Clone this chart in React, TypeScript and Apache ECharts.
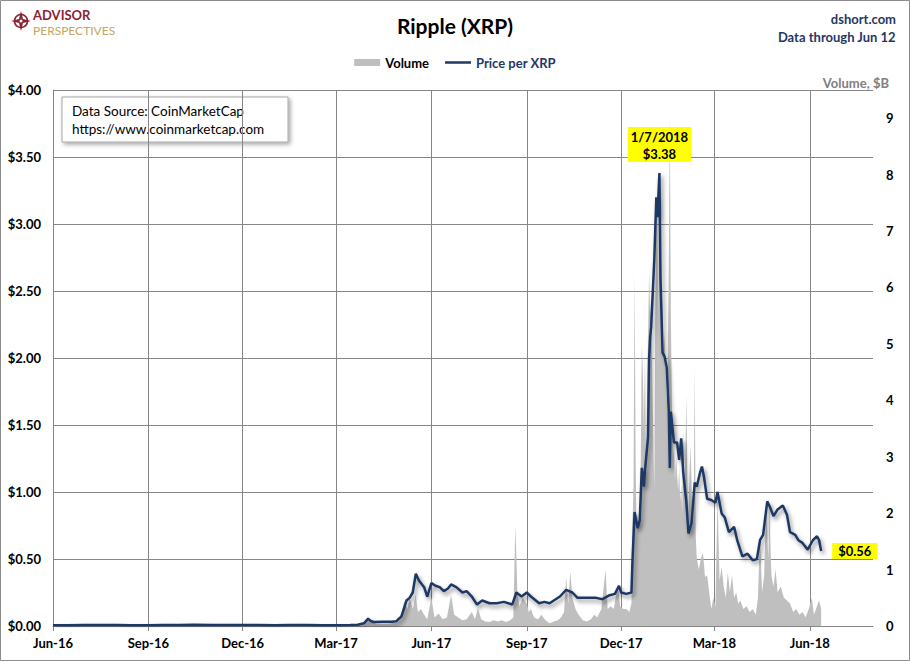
import React, { useEffect, useRef } from "react";
import * as echarts from "echarts";

const FONT = 'Lato, "Open Sans", sans-serif';
const NAVY = "#1f3864";

// ---- DATA ----
const tickDates = ["2016-06-01", "2016-09-01", "2016-12-01", "2017-03-01", "2017-06-01", "2017-09-01", "2017-12-01", "2018-03-01", "2018-06-01"];
const tickLabels = ["Jun-16", "Sep-16", "Dec-16", "Mar-17", "Jun-17", "Sep-17", "Dec-17", "Mar-18", "Jun-18"];
const axisStart = "2016-06-01";
const axisEnd = "2018-08-01";

const priceDates = [
  "2016-06-01", "2016-06-15", "2016-07-01", "2016-07-15", "2016-08-01", "2016-08-15", "2016-09-01", "2016-09-15",
  "2016-10-01", "2016-10-15", "2016-11-01", "2016-11-15", "2016-12-01", "2016-12-15", "2017-01-01", "2017-01-15",
  "2017-02-01", "2017-02-15", "2017-03-01", "2017-03-15", "2017-03-22", "2017-03-28", "2017-04-01", "2017-04-03",
  "2017-04-06", "2017-04-15", "2017-04-24", "2017-04-28", "2017-04-30", "2017-05-03", "2017-05-06", "2017-05-08",
  "2017-05-11", "2017-05-14", "2017-05-17", "2017-05-20", "2017-05-25", "2017-05-28", "2017-06-01", "2017-06-05",
  "2017-06-09", "2017-06-13", "2017-06-17", "2017-06-20", "2017-06-25", "2017-07-01", "2017-07-05", "2017-07-10",
  "2017-07-15", "2017-07-20", "2017-07-27", "2017-08-03", "2017-08-10", "2017-08-18", "2017-08-22", "2017-08-27",
  "2017-09-01", "2017-09-05", "2017-09-13", "2017-09-18", "2017-09-23", "2017-10-03", "2017-10-09", "2017-10-15",
  "2017-10-20", "2017-10-29", "2017-11-07", "2017-11-13", "2017-11-20", "2017-11-25", "2017-11-29", "2017-12-01",
  "2017-12-06", "2017-12-11", "2017-12-12", "2017-12-14", "2017-12-17", "2017-12-19", "2017-12-21", "2017-12-23",
  "2017-12-24", "2017-12-27", "2017-12-28", "2017-12-29", "2017-12-30", "2018-01-02", "2018-01-04", "2018-01-05",
  "2018-01-07", "2018-01-08", "2018-01-10", "2018-01-12", "2018-01-14", "2018-01-16", "2018-01-17", "2018-01-18",
  "2018-01-21", "2018-01-24", "2018-01-26", "2018-01-28", "2018-01-30", "2018-02-02", "2018-02-04", "2018-02-07",
  "2018-02-10", "2018-02-12", "2018-02-15", "2018-02-17", "2018-02-19", "2018-02-22", "2018-02-26", "2018-03-02",
  "2018-03-04", "2018-03-08", "2018-03-11", "2018-03-15", "2018-03-20", "2018-03-23", "2018-03-28", "2018-04-02",
  "2018-04-07", "2018-04-11", "2018-04-14", "2018-04-17", "2018-04-21", "2018-04-24", "2018-04-27", "2018-05-01",
  "2018-05-06", "2018-05-10", "2018-05-13", "2018-05-18", "2018-05-21", "2018-05-25", "2018-05-30", "2018-06-04",
  "2018-06-08", "2018-06-10", "2018-06-12",
];
const priceValues = [
  0.006, 0.006, 0.007, 0.008, 0.007, 0.006, 0.006, 0.007,
  0.008, 0.009, 0.008, 0.008, 0.008, 0.007, 0.006, 0.007,
  0.007, 0.006, 0.006, 0.007, 0.01, 0.02, 0.055, 0.04,
  0.03, 0.031, 0.031, 0.035, 0.05, 0.07, 0.14, 0.19,
  0.21, 0.25, 0.39, 0.34, 0.29, 0.22, 0.32, 0.30,
  0.29, 0.26, 0.28, 0.31, 0.29, 0.25, 0.26, 0.22,
  0.16, 0.19, 0.17, 0.17, 0.18, 0.16, 0.25, 0.22,
  0.25, 0.22, 0.17, 0.18, 0.17, 0.22, 0.27, 0.25,
  0.21, 0.21, 0.21, 0.20, 0.23, 0.24, 0.30, 0.25,
  0.24, 0.25, 0.49, 0.85, 0.73, 0.79, 1.18, 1.04,
  1.16, 1.41, 1.99, 2.15, 2.23, 2.73, 3.20, 3.05,
  3.38, 2.60, 2.04, 2.01, 1.93, 1.61, 1.18, 1.60,
  1.37, 1.37, 1.24, 1.40, 1.14, 0.92, 0.69, 0.77,
  1.07, 1.04, 1.14, 1.19, 1.11, 0.95, 0.94, 0.92,
  1.00, 0.84, 0.81, 0.70, 0.74, 0.64, 0.52, 0.54,
  0.49, 0.50, 0.64, 0.68, 0.93, 0.88, 0.82, 0.87,
  0.90, 0.83, 0.70, 0.68, 0.64, 0.62, 0.57, 0.64,
  0.67, 0.64, 0.56,
];

const volumeDates = [
  "2016-06-01", "2016-07-01", "2016-08-01", "2016-09-01", "2016-10-01", "2016-11-01", "2016-12-01", "2017-01-01",
  "2017-02-01", "2017-03-01", "2017-03-20", "2017-03-28", "2017-04-01", "2017-04-03", "2017-04-10", "2017-04-20",
  "2017-04-28", "2017-05-03", "2017-05-06", "2017-05-09", "2017-05-11", "2017-05-14", "2017-05-17", "2017-05-19",
  "2017-05-22", "2017-05-25", "2017-05-28", "2017-06-01", "2017-06-04", "2017-06-08", "2017-06-12", "2017-06-16",
  "2017-06-20", "2017-06-23", "2017-06-27", "2017-07-01", "2017-07-05", "2017-07-10", "2017-07-13", "2017-07-16",
  "2017-07-19", "2017-07-23", "2017-07-27", "2017-07-31", "2017-08-04", "2017-08-08", "2017-08-12", "2017-08-16",
  "2017-08-19", "2017-08-21", "2017-08-23", "2017-08-25", "2017-08-28", "2017-09-01", "2017-09-03", "2017-09-05",
  "2017-09-08", "2017-09-12", "2017-09-15", "2017-09-19", "2017-09-23", "2017-09-27", "2017-10-01", "2017-10-04",
  "2017-10-07", "2017-10-09", "2017-10-11", "2017-10-13", "2017-10-15", "2017-10-18", "2017-10-21", "2017-10-25",
  "2017-10-29", "2017-11-02", "2017-11-05", "2017-11-08", "2017-11-12", "2017-11-16", "2017-11-18", "2017-11-21",
  "2017-11-24", "2017-11-28", "2017-11-30", "2017-12-03", "2017-12-06", "2017-12-09", "2017-12-11", "2017-12-12",
  "2017-12-13", "2017-12-14", "2017-12-15", "2017-12-16", "2017-12-17", "2017-12-18", "2017-12-19", "2017-12-20",
  "2017-12-21", "2017-12-22", "2017-12-23", "2017-12-24", "2017-12-25", "2017-12-26", "2017-12-27", "2017-12-28",
  "2017-12-29", "2017-12-30", "2017-12-31", "2018-01-01", "2018-01-02", "2018-01-03", "2018-01-04", "2018-01-05",
  "2018-01-06", "2018-01-07", "2018-01-08", "2018-01-09", "2018-01-10", "2018-01-11", "2018-01-12", "2018-01-13",
  "2018-01-14", "2018-01-15", "2018-01-16", "2018-01-17", "2018-01-18", "2018-01-19", "2018-01-20", "2018-01-21",
  "2018-01-22", "2018-01-23", "2018-01-24", "2018-01-25", "2018-01-26", "2018-01-27", "2018-01-28", "2018-01-29",
  "2018-01-30", "2018-01-31", "2018-02-01", "2018-02-02", "2018-02-03", "2018-02-04", "2018-02-05", "2018-02-06",
  "2018-02-07", "2018-02-08", "2018-02-09", "2018-02-10", "2018-02-11", "2018-02-12", "2018-02-14", "2018-02-16",
  "2018-02-18", "2018-02-20", "2018-02-22", "2018-02-24", "2018-02-26", "2018-02-28", "2018-03-02", "2018-03-04",
  "2018-03-06", "2018-03-08", "2018-03-10", "2018-03-12", "2018-03-14", "2018-03-16", "2018-03-18", "2018-03-20",
  "2018-03-22", "2018-03-24", "2018-03-26", "2018-03-29", "2018-04-01", "2018-04-04", "2018-04-07", "2018-04-10",
  "2018-04-12", "2018-04-14", "2018-04-16", "2018-04-18", "2018-04-20", "2018-04-22", "2018-04-23", "2018-04-25",
  "2018-04-27", "2018-04-29", "2018-05-01", "2018-05-04", "2018-05-07", "2018-05-10", "2018-05-13", "2018-05-16",
  "2018-05-19", "2018-05-22", "2018-05-25", "2018-05-28", "2018-05-31", "2018-06-03", "2018-06-05", "2018-06-07",
  "2018-06-10", "2018-06-12",
];
const volumeValues = [
  0.002, 0.003, 0.002, 0.003, 0.004, 0.003, 0.003, 0.002,
  0.002, 0.003, 0.01, 0.03, 0.15, 0.08, 0.04, 0.04,
  0.06, 0.2, 0.45, 0.3, 0.5, 0.3, 0.55, 0.25,
  0.3, 0.2, 0.12, 0.5, 0.15, 0.22, 0.12, 0.15,
  0.55, 0.2, 0.15, 0.1, 0.12, 0.25, 0.12, 0.32,
  0.12, 0.08, 0.07, 0.1, 0.08, 0.1, 0.07, 0.1,
  0.15, 1.79, 0.6, 0.35, 0.5, 0.4, 0.25, 0.3,
  0.15, 0.12, 0.2, 0.1, 0.05, 0.08, 0.1, 0.15,
  0.25, 0.87, 0.4, 0.96, 0.5, 0.3, 0.2, 0.1,
  0.08, 0.12, 0.2, 0.15, 0.3, 1.0, 0.3, 0.35,
  0.3, 0.76, 0.35, 0.3, 0.3, 0.25, 0.4, 1.8,
  2.5, 6.3, 3.0, 1.6, 2.0, 1.7, 2.0, 3.0,
  5.0, 4.5, 3.5, 4.8, 3.0, 4.0, 5.0, 6.3,
  5.5, 5.8, 4.5, 3.5, 2.4, 5.5, 7.5, 7.0,
  5.5, 8.0, 6.5, 5.0, 5.8, 4.8, 5.2, 4.5,
  4.0, 4.6, 6.4, 9.1, 5.5, 4.0, 3.0, 3.2,
  2.6, 3.0, 2.7, 2.4, 2.8, 2.2, 2.5, 2.0,
  3.5, 2.4, 3.0, 4.1, 2.5, 2.0, 2.7, 3.2,
  2.5, 1.8, 2.0, 4.6, 1.6, 1.2, 1.0, 1.2,
  1.3, 0.87, 0.9, 0.6, 0.3, 0.5, 0.35, 2.3,
  0.8, 1.05, 0.7, 0.5, 0.95, 0.6, 0.9, 0.5,
  0.6, 0.4, 0.45, 0.3, 0.35, 0.25, 0.3, 0.2,
  0.5, 1.65, 0.6, 0.9, 2.2, 1.2, 2.1, 0.9,
  0.7, 1.0, 0.6, 0.7, 0.5, 0.45, 0.4, 0.25,
  0.3, 0.2, 0.25, 0.15, 0.3, 0.5, 0.2, 0.3,
  0.45, 0.3,
];

const priceTicks = { min: 0, max: 4, interval: 0.5 };
const volumeTicks = { min: 0, max: 9.5, interval: 1 };

function ts(s: string): number {
  const [y, m, d] = s.split("-").map(Number);
  return new Date(y, m - 1, d).getTime();
}

export default function App() {
  const ref = useRef<HTMLDivElement>(null);

  useEffect(() => {
    if (!ref.current) return;
    const chart = echarts.init(ref.current, undefined, { renderer: "svg" });

    const tickTs = tickDates.map(ts);
    const priceData = priceDates.map((d, i) => [ts(d), priceValues[i]]);
    const volumeData = volumeDates.map((d, i) => [ts(d), volumeValues[i]]);

    let maxIdx = 0;
    priceValues.forEach((v, i) => {
      if (v > priceValues[maxIdx]) maxIdx = i;
    });
    const [py, pm, pd] = priceDates[maxIdx].split("-").map(Number);
    const peakLabel = `${pm}/${pd}/${py}\n$${priceValues[maxIdx].toFixed(2)}`;
    const lastIdx = priceValues.length - 1;
    const lastLabel = `$${priceValues[lastIdx].toFixed(2)}`;

    const labelBase = {
      show: true,
      fontFamily: FONT,
      fontWeight: "bold",
      fontSize: 13,
      color: "#000",
      backgroundColor: "#ffff00",
    };

    chart.setOption({
      animation: false,
      backgroundColor: "#fff",
      textStyle: { fontFamily: FONT },
      title: [
        {
          text: "Ripple (XRP)",
          left: "center",
          top: 10,
          textStyle: { fontFamily: FONT, fontSize: 21, fontWeight: "bold", color: "#000" },
        },
        {
          text: "dshort.com",
          right: 9,
          top: 7,
          textStyle: { fontFamily: FONT, fontSize: 13, fontWeight: "bold", color: NAVY },
        },
        {
          text: "Data through Jun 12",
          right: 9,
          top: 25,
          textStyle: { fontFamily: FONT, fontSize: 13, fontWeight: "bold", color: NAVY },
        },
        {
          text: "Volume, $B",
          right: 16,
          top: 71,
          textStyle: { fontFamily: FONT, fontSize: 13, fontWeight: "bold", color: "#808080" },
        },
      ],
      legend: {
        top: 51,
        left: "center",
        itemWidth: 26,
        itemHeight: 7,
        itemGap: 16,
        textStyle: { fontFamily: FONT, fontSize: 13, fontWeight: "bold" },
        data: [
          { name: "Volume", icon: "rect", textStyle: { color: "#000" } },
          {
            name: "Price per XRP",
            icon: "path://M0,0 L26,0 L26,2.5 L0,2.5 Z",
            textStyle: { color: NAVY },
          },
        ],
      },
      grid: { left: 53, right: 37, top: 90, bottom: 35, containLabel: false },
      xAxis: {
        type: "value",
        min: ts(axisStart),
        max: ts(axisEnd),
        axisLine: { show: true, lineStyle: { color: "#868686", width: 1 } },
        axisTick: { show: true, customValues: tickTs, length: 5, lineStyle: { color: "#868686" } },
        axisLabel: {
          customValues: tickTs,
          margin: 10,
          fontFamily: FONT,
          fontWeight: "bold",
          fontSize: 13,
          color: "#000",
          formatter: (v: number) => {
            const i = tickTs.indexOf(v);
            return i >= 0 ? tickLabels[i] : "";
          },
        },
        splitLine: { show: true, lineStyle: { color: "#868686", width: 1 } },
      },
      yAxis: [
        {
          type: "value",
          min: priceTicks.min,
          max: priceTicks.max,
          interval: priceTicks.interval,
          axisLine: { show: true, lineStyle: { color: "#868686" } },
          axisTick: { show: false },
          splitLine: { show: true, lineStyle: { color: "#868686", width: 1 } },
          axisLabel: {
            margin: 12,
            fontFamily: FONT,
            fontWeight: "bold",
            fontSize: 13,
            color: "#000",
            formatter: (v: number) => "$" + v.toFixed(2),
          },
        },
        {
          type: "value",
          position: "right",
          min: volumeTicks.min,
          max: volumeTicks.max,
          interval: volumeTicks.interval,
          axisLine: { show: false },
          axisTick: { show: false },
          splitLine: { show: false },
          axisLabel: {
            margin: 13,
            fontFamily: FONT,
            fontWeight: "bold",
            fontSize: 13,
            color: "#000",
            formatter: (v: number) => (Number.isInteger(v) ? String(v) : ""),
          },
        },
      ],
      series: [
        {
          name: "Volume",
          type: "line",
          yAxisIndex: 1,
          data: volumeData,
          showSymbol: false,
          symbol: "none",
          itemStyle: { color: "#bfbfbf" },
          lineStyle: { width: 0, color: "#bfbfbf" },
          areaStyle: { color: "#bfbfbf", opacity: 1 },
          z: 1,
        },
        {
          name: "Price per XRP",
          type: "line",
          yAxisIndex: 0,
          data: priceData,
          showSymbol: false,
          symbol: "none",
          itemStyle: { color: NAVY },
          lineStyle: {
            color: NAVY,
            width: 2.5,
            shadowColor: "rgba(0,0,0,0.45)",
            shadowBlur: 4,
            shadowOffsetX: 2,
            shadowOffsetY: 3,
          },
          z: 3,
          markPoint: {
            symbol: "circle",
            symbolSize: 2,
            itemStyle: { color: "rgba(0,0,0,0)" },
            data: [
              {
                coord: priceData[maxIdx],
                label: {
                  ...labelBase,
                  position: "top",
                  distance: 10,
                  align: "center",
                  lineHeight: 17,
                  padding: [1, 3, 0, 3],
                  formatter: peakLabel,
                },
              },
              {
                coord: priceData[lastIdx],
                label: {
                  ...labelBase,
                  position: "right",
                  distance: 10,
                  padding: [2, 6, 1, 6],
                  formatter: lastLabel,
                },
              },
            ],
          },
        },
      ],
      graphic: [
        {
          type: "rect",
          z: 100,
          shape: { x: 0.5, y: 0.5, width: 909, height: 660 },
          style: { fill: "none", stroke: "#8c8c8c", lineWidth: 1 },
          silent: true,
        },
        {
          type: "group",
          z: 100,
          children: [
            {
              type: "rect",
              shape: { x: 62, y: 97, width: 226, height: 45 },
              style: {
                fill: "#fff",
                stroke: "#a6a6a6",
                lineWidth: 1,
                shadowColor: "rgba(0,0,0,0.35)",
                shadowBlur: 4,
                shadowOffsetX: 2,
                shadowOffsetY: 2,
              },
            },
            {
              type: "text",
              x: 72,
              y: 111,
              style: {
                text: "Data Source: CoinMarketCap",
                font: `13.5px ${FONT}`,
                fill: "#000",
                verticalAlign: "middle",
              },
            },
            {
              type: "text",
              x: 72,
              y: 129,
              style: {
                text: "https://www.coinmarketcap.com",
                font: `13.5px ${FONT}`,
                fill: "#000",
                verticalAlign: "middle",
              },
            },
          ],
        },
        {
          type: "group",
          z: 100,
          children: [
            {
              type: "circle",
              shape: { cx: 21, cy: 21, r: 6.5 },
              style: { fill: "none", stroke: "#8b2332", lineWidth: 1.6 },
            },
            {
              type: "polygon",
              shape: {
                points: [
                  [21, 11], [23, 19], [31, 21], [23, 23], [21, 31], [19, 23], [11, 21], [19, 19],
                ],
              },
              style: { fill: "#8b2332" },
            },
            {
              type: "circle",
              shape: { cx: 21, cy: 21, r: 1.5 },
              style: { fill: "#fff" },
            },
            {
              type: "text",
              x: 33,
              y: 15,
              style: {
                text: "ADVISOR",
                font: `bold 13px ${FONT}`,
                fill: "#8b2332",
                verticalAlign: "middle",
              },
            },
            {
              type: "text",
              x: 33,
              y: 30.5,
              style: {
                text: "PERSPECTIVES",
                font: `12px ${FONT}`,
                fill: "#c6a55e",
                verticalAlign: "middle",
              },
            },
          ],
        },
      ],
    });

    return () => chart.dispose();
  }, []);

  return (
    <div
      ref={ref}
      style={{ position: "fixed", left: 0, top: 0, width: 910, height: 661, background: "#fff" }}
    />
  );
}
